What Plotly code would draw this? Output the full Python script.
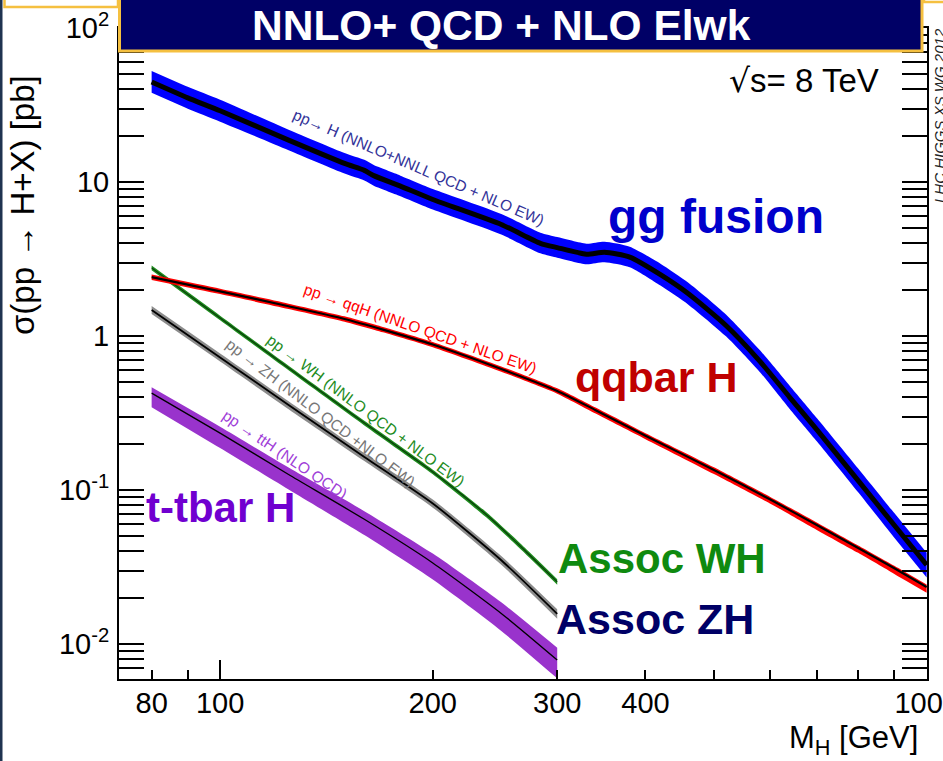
import plotly.graph_objects as go

# ---------------- data ----------------
mH_gg = [80, 90, 100, 125, 150, 160, 165, 180, 200, 250, 284, 300, 330, 350, 380, 420, 460, 520, 580, 640, 700, 800, 900, 1000]
sig_gg = [44.6, 35.2, 29.0, 18.7, 13.2, 11.9, 11.0, 9.4, 7.7, 5.3, 4.0, 3.75, 3.4, 3.5, 3.25, 2.5, 1.88, 1.17, 0.69, 0.40, 0.245, 0.115, 0.059, 0.0326]
gg_up = [1.18, 1.18, 1.18, 1.17, 1.17, 1.17, 1.17, 1.17, 1.17, 1.17, 1.17, 1.17, 1.17, 1.17, 1.17, 1.18, 1.18, 1.18, 1.18, 1.19, 1.19, 1.2, 1.2, 1.2]
gg_dn = [0.85, 0.85, 0.85, 0.86, 0.86, 0.86, 0.86, 0.86, 0.86, 0.86, 0.86, 0.86, 0.86, 0.86, 0.86, 0.85, 0.85, 0.85, 0.85, 0.84, 0.84, 0.84, 0.83, 0.83]

mH_qq = [80, 100, 125, 150, 170, 200, 250, 300, 340, 400, 500, 600, 700, 800, 900, 1000]
sig_qq = [2.41, 1.95, 1.56, 1.29, 1.10, 0.88, 0.61, 0.44, 0.33, 0.225, 0.135, 0.087, 0.059, 0.042, 0.031, 0.0234]
qq_up = [1.04, 1.04, 1.04, 1.04, 1.04, 1.04, 1.04, 1.04, 1.04, 1.04, 1.04, 1.04, 1.04, 1.04, 1.04, 1.04]
qq_dn = [0.96, 0.96, 0.96, 0.96, 0.96, 0.96, 0.96, 0.96, 0.95, 0.95, 0.94, 0.94, 0.93, 0.93, 0.92, 0.92]

mH_wh = [80, 100, 125, 160, 200, 240, 270, 300]
sig_wh = [2.77, 1.31, 0.62, 0.272, 0.131, 0.067, 0.0405, 0.0253]
wh_up = [1.035, 1.035, 1.035, 1.035, 1.035, 1.04, 1.04, 1.04]
wh_dn = [0.965, 0.965, 0.965, 0.965, 0.965, 0.96, 0.96, 0.96]

mH_zh = [80, 100, 125, 160, 200, 250, 300]
sig_zh = [1.476, 0.726, 0.356, 0.164, 0.0817, 0.035, 0.0157]
zh_up = [1.06, 1.06, 1.06, 1.06, 1.06, 1.065, 1.07]
zh_dn = [0.94, 0.94, 0.94, 0.94, 0.94, 0.935, 0.93]

mH_tt = [80, 100, 125, 160, 200, 250, 300]
sig_tt = [0.426, 0.234, 0.126, 0.0645, 0.0336, 0.0158, 0.00787]
tt_up = [1.09, 1.10, 1.11, 1.13, 1.15, 1.18, 1.2]
tt_dn = [0.81, 0.80, 0.80, 0.79, 0.78, 0.77, 0.76]

x_tickvals = [80, 100, 200, 300, 400, 1000]
x_ticktext = ["80", "100", "200", "300", "400", "1000"]
y_tickvals = [0.01, 0.1, 1, 10, 100]
y_ticktext = ["10<sup>-2</sup>", "10<sup>-1</sup>", "1", "10", "10<sup>2</sup>"]

# ---------------- geometry helpers (pixel -> paper) ----------------
W, H = 943, 761
L, R, T, B = 119, 927, 28, 679


def px(x):
    return (x - L) / (R - L)


def py(y):
    return (B - y) / (B - T)


FONT = "Liberation Sans, Arial, sans-serif"

fig = go.Figure()


def band(m, s, up, dn, fillcol, linecol, lw):
    hi = [a * b for a, b in zip(s, up)]
    lo = [a * b for a, b in zip(s, dn)]
    fig.add_trace(go.Scatter(x=m, y=lo, mode="lines", line=dict(width=0, shape="spline", smoothing=0.6),
                             showlegend=False, hoverinfo="skip"))
    fig.add_trace(go.Scatter(x=m, y=hi, mode="lines", line=dict(width=0, shape="spline", smoothing=0.6),
                             fill="tonexty", fillcolor=fillcol, showlegend=False, hoverinfo="skip"))
    fig.add_trace(go.Scatter(x=m, y=s, mode="lines", line=dict(color=linecol, width=lw, shape="spline", smoothing=0.6),
                             showlegend=False))


band(mH_tt, sig_tt, tt_up, tt_dn, "#9933CC", "black", 1.3)
band(mH_zh, sig_zh, zh_up, zh_dn, "#8C8C8C", "black", 1.8)
band(mH_wh, sig_wh, wh_up, wh_dn, "#1E8C1E", "#0B3D0B", 1.2)
band(mH_qq, sig_qq, qq_up, qq_dn, "#FF0000", "black", 2.2)
band(mH_gg, sig_gg, gg_up, gg_dn, "#0000FF", "black", 5)

# invisible trace for the long-tick overlay axis
fig.add_trace(go.Scatter(x=[100], y=[1], xaxis="x2", mode="markers", marker=dict(opacity=0),
                         showlegend=False, hoverinfo="skip"))

minor_y = [k * 10 ** e for e in range(-3, 2) for k in range(2, 10)]
minor_x = [90, 500, 600, 700, 800, 900]

xrange = [1.8569, 3.0005]
fig.update_layout(
    width=W, height=H,
    margin=dict(l=L, r=W - R, t=T, b=H - B),
    paper_bgcolor="white", plot_bgcolor="white",
    font=dict(family=FONT, color="black"),
    xaxis=dict(type="log", range=xrange, tickmode="array", tickvals=x_tickvals, ticktext=x_ticktext,
               ticks="inside", ticklen=9, tickwidth=1.5, tickcolor="black",
               showline=True, linecolor="black", linewidth=2, mirror="ticks",
               showgrid=False, zeroline=False, tickfont=dict(size=29, family=FONT),
               ticklabelstandoff=-3, ticklabeloverflow="allow", automargin=False,
               minor=dict(tickvals=minor_x, ticks="inside", ticklen=9, tickwidth=1.5, tickcolor="black", showgrid=False)),
    xaxis2=dict(type="log", range=xrange, overlaying="x", anchor="y", side="bottom", tickmode="array",
                tickvals=[100, 1000], ticks="inside", ticklen=19, tickwidth=1.5, tickcolor="black",
                showticklabels=False, showline=False, showgrid=False, zeroline=False),
    yaxis=dict(type="log", range=[-2.2273, 2.0], tickmode="array", tickvals=y_tickvals, ticktext=y_ticktext,
               ticks="inside", ticklen=25, tickwidth=1.5, tickcolor="black",
               showline=True, linecolor="black", linewidth=2, mirror="allticks",
               showgrid=False, zeroline=False, tickfont=dict(size=29, family=FONT),
               ticklabelstandoff=2, ticklabeloverflow="allow", automargin=False,
               minor=dict(tickvals=minor_y, ticks="inside", ticklen=12, tickwidth=1.5, tickcolor="black", showgrid=False)),
)

shapes = [
    # left dark strip
    dict(type="rect", xref="paper", yref="paper", x0=px(-5), x1=px(2.5), y0=py(H + 5), y1=py(-5),
         fillcolor="#1F3350", line=dict(width=0), layer="above"),
    # top-left white box with gold border
    dict(type="rect", xref="paper", yref="paper", x0=px(4.5), x1=px(118), y0=py(7), y1=py(-20),
         fillcolor="white", line=dict(color="#F5C040", width=2.5), layer="above"),
    # top-right gold edge
    dict(type="rect", xref="paper", yref="paper", x0=px(924), x1=px(960), y0=py(2), y1=py(-20),
         fillcolor="white", line=dict(color="#F5C040", width=2.5), layer="above"),
    # title box
    dict(type="rect", xref="paper", yref="paper", x0=px(119.5), x1=px(922), y0=py(51), y1=py(-6),
         fillcolor="#000066", line=dict(color="#F5C040", width=3), layer="above"),
]
fig.update_layout(shapes=shapes)


def ann(text, x, y, size, color, angle=0, bold=False, italic=False, xanchor="center", yanchor="middle"):
    t = f"<b>{text}</b>" if bold else text
    if italic:
        t = f"<i>{t}</i>"
    fig.add_annotation(text=t, x=px(x), y=py(y), xref="paper", yref="paper", showarrow=False,
                       textangle=angle, xanchor=xanchor, yanchor=yanchor,
                       font=dict(size=size, color=color, family=FONT))


ann("NNLO+ QCD + NLO Elwk", 501, 26, 42.5, "white", bold=True)
ann("<span style='font-family:DejaVu Sans'>√</span>s= 8 TeV", 881, 80, 33, "black", xanchor="right")
ann("LHC HIGGS XS WG 2012", 940, 115, 15, "#222222", angle=-90, italic=True)

ann("pp→ H (NNLO+NNLL QCD + NLO EW)", 419, 167, 15.5, "#333399", angle=23.3)
ann("pp → qqH (NNLO QCD + NLO EW)", 420, 328, 15.5, "#FF0000", angle=19.1)
ann("pp → WH (NNLO QCD + NLO EW)", 366, 410, 15.5, "#1E8C1E", angle=36.8)
ann("pp → ZH (NNLO QCD +NLO EW)", 320, 413, 15.5, "#777777", angle=37.4)
ann("pp → ttH (NLO QCD)", 285, 454, 15.5, "#A040D8", angle=34)

ann("gg fusion", 716, 217, 48, "#0000CC", bold=True)
ann("qqbar H", 656, 377, 43, "#C00000", bold=True)
ann("Assoc WH", 662, 558, 42, "#0F8A0F", bold=True)
ann("Assoc ZH", 655, 619, 43, "#000066", bold=True)
ann("t-tbar H", 220, 507, 42, "#7000D0", bold=True)

ann("σ(pp → H+X) [pb]", 22, 205, 33, "black", angle=-90)
ann("M<sub>H</sub> [GeV]", 920, 740, 31, "black", xanchor="right")

fig.write_html("out.html", config={"displayModeBar": False},
               post_script="document.body.style.margin='0px';document.body.style.overflow='hidden';")
